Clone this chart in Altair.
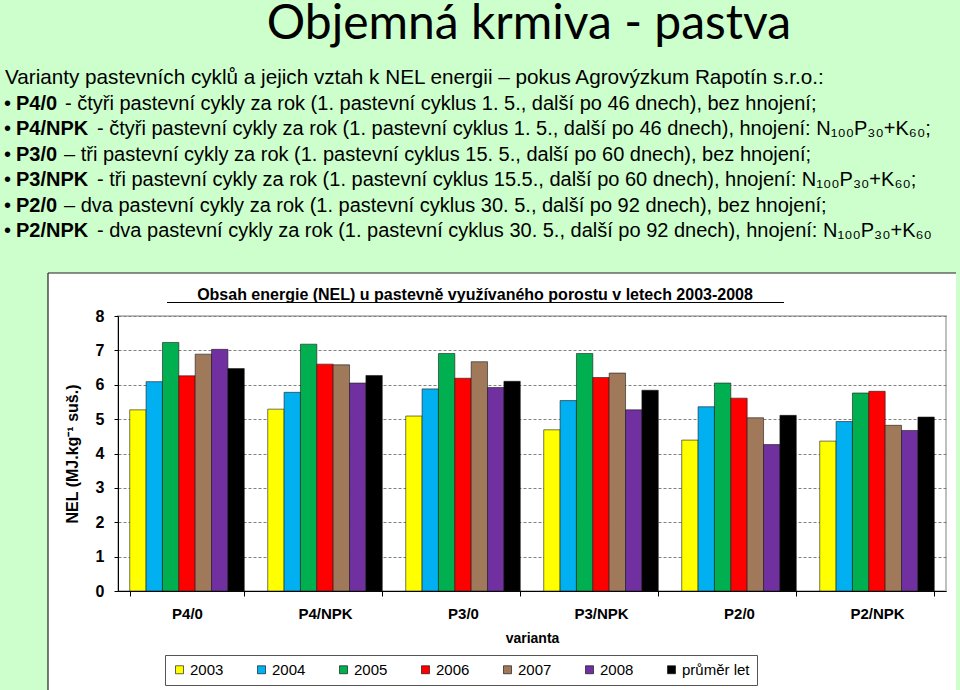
import altair as alt
import pandas as pd

# ---------------- data ----------------
variants = ["P4/0", "P4/NPK", "P3/0", "P3/NPK", "P2/0", "P2/NPK"]
years = ["2003", "2004", "2005", "2006", "2007", "2008", "průměr let"]
colors = ["#FFFF00", "#00B0F0", "#00B050", "#FF0000", "#A0785A", "#7030A0", "#000000"]

y2003 = [5.27, 5.29, 5.09, 4.69, 4.39, 4.36]
y2004 = [6.09, 5.78, 5.88, 5.54, 5.36, 4.93]
y2005 = [7.23, 7.18, 6.91, 6.91, 6.05, 5.76]
y2006 = [6.26, 6.60, 6.19, 6.21, 5.61, 5.81]
y2007 = [6.89, 6.58, 6.67, 6.34, 5.04, 4.82]
y2008 = [7.03, 6.05, 5.92, 5.27, 4.26, 4.67]
prumer = [6.47, 6.27, 6.10, 5.84, 5.11, 5.06]

y_ticks = [0, 1, 2, 3, 4, 5, 6, 7, 8]

page_title = "Objemná krmiva - pastva"
intro = "Varianty pastevních cyklů a jejich vztah k NEL energii – pokus Agrovýzkum Rapotín s.r.o.:"
bullet_bold = ["P4/0", "P4/NPK", "P3/0", "P3/NPK", "P2/0", "P2/NPK"]
bullet_rest = [
    "- čtyři pastevní cykly za rok (1. pastevní cyklus 1. 5., další po 46 dnech), bez hnojení;",
    "- čtyři pastevní cykly za rok (1. pastevní cyklus 1. 5., další po 46 dnech), hnojení: N₁₀₀P₃₀+K₆₀;",
    "– tři pastevní cykly za rok (1. pastevní cyklus 15. 5., další po 60 dnech), bez hnojení;",
    "- tři pastevní cykly za rok (1. pastevní cyklus 15.5., další po 60 dnech), hnojení: N₁₀₀P₃₀+K₆₀;",
    "– dva pastevní cykly za rok (1. pastevní cyklus 30. 5., další po 92 dnech), bez hnojení;",
    "- dva pastevní cykly za rok (1. pastevní cyklus 30. 5., další po 92 dnech), hnojení: N₁₀₀P₃₀+K₆₀",
]
chart_title = "Obsah energie (NEL) u pastevně využívaného porostu v letech 2003-2008"
y_title = "NEL (MJ.kg⁻¹ suš.)"
x_title = "varianta"

series = [y2003, y2004, y2005, y2006, y2007, y2008, prumer]
rows = []
for yr, vals in zip(years, series):
    for v, val in zip(variants, vals):
        rows.append({"varianta": v, "rok": yr, "NEL": val})
df = pd.DataFrame(rows)

# ---------------- layout ----------------
OX, OY = 118, 316          # plot origin in page pixels
W, H = 828, 275
ARIAL = "Liberation Sans"
PAGE_GREEN = "#CCFFCC"

one = pd.DataFrame({"k": [0]})


def px(x):
    return x - OX


def py(y):
    return y - OY


def rect(x0, x1, y0, y1, fill):
    return alt.Chart(one).mark_rect(fill=fill).encode(
        x=alt.value(px(x0)), x2=alt.value(px(x1)),
        y=alt.value(py(y0)), y2=alt.value(py(y1)))


# green page around the white chart box
layers = [
    rect(0, 960, 0, 273, PAGE_GREEN),
    rect(0, 48, 273, 690, PAGE_GREEN),
    rect(956, 960, 273, 690, PAGE_GREEN),
]
layers.append(alt.Chart(one).mark_rule(color="#202020", strokeWidth=1.2).encode(
    x=alt.value(px(48)), x2=alt.value(px(956)), y=alt.value(py(273))))
layers.append(alt.Chart(one).mark_rule(color="#202020", strokeWidth=1.2).encode(
    x=alt.value(px(48)), y=alt.value(py(273)), y2=alt.value(py(690))))

# page title
layers.append(alt.Chart(one).mark_text(
    text=page_title, font="Lato", fontSize=48, align="center", baseline="alphabetic",
    color="black").encode(x=alt.value(px(529)), y=alt.value(py(39))))

# intro + bullet lines
line_y = [78, 103.5, 129, 154.5, 180, 205.5, 231]
layers.append(alt.Chart(one).mark_text(
    text=intro, font=ARIAL, fontSize=20.7, align="left", baseline="middle",
    color="black").encode(x=alt.value(px(5)), y=alt.value(py(line_y[0]))))
rest_x = [65, 97, 64, 97, 64, 97]
for i, (b, r) in enumerate(zip(bullet_bold, bullet_rest)):
    yy = py(line_y[i + 1])
    layers.append(alt.Chart(one).mark_text(
        text="•", font=ARIAL, fontSize=20, align="left", baseline="middle",
        color="black").encode(x=alt.value(px(4)), y=alt.value(yy)))
    layers.append(alt.Chart(one).mark_text(
        text=b, font=ARIAL, fontSize=20, fontWeight="bold", align="left",
        baseline="middle", color="black").encode(x=alt.value(px(16)), y=alt.value(yy)))
    layers.append(alt.Chart(one).mark_text(
        text=r, font=ARIAL, fontSize=20, align="left", baseline="middle",
        color="black").encode(x=alt.value(px(rest_x[i])), y=alt.value(yy)))

# chart title + underline
layers.append(alt.Chart(one).mark_text(
    text=chart_title, font=ARIAL, fontSize=16, fontWeight="bold", align="center",
    baseline="alphabetic", color="black").encode(
    x=alt.value(px(475)), y=alt.value(py(300))))
layers.append(alt.Chart(one).mark_rule(color="black", strokeWidth=1.2).encode(
    x=alt.value(px(167)), x2=alt.value(px(784)), y=alt.value(py(302.5))))

# bars
bars = alt.Chart(df).mark_bar(stroke="#1a1a1a", strokeWidth=0.6).encode(
    x=alt.X("varianta:N", sort=variants,
            scale=alt.Scale(paddingInner=0.17, paddingOuter=0.085),
            axis=alt.Axis(title=x_title, labelAngle=0, labelFont=ARIAL,
                          labelFontSize=15, labelFontWeight="bold", labelColor="black",
                          labelPadding=10, tickBand="extent", tickSize=5,
                          tickColor="black", domainColor="black",
                          titleFont=ARIAL, titleFontSize=14, titleFontWeight="bold",
                          titleColor="black", titlePadding=10)),
    xOffset=alt.XOffset("rok:N", sort=years),
    y=alt.Y("NEL:Q", scale=alt.Scale(domain=[0, 8], nice=False),
            axis=alt.Axis(values=y_ticks, title=y_title, labelFont=ARIAL,
                          labelFontSize=16, labelFontWeight="bold", labelColor="black",
                          labelPadding=10, tickSize=4, tickColor="black",
                          domainColor="black", grid=True, gridColor="#808080",
                          gridDash=[3, 2], gridWidth=1,
                          titleFont=ARIAL, titleFontSize=16, titleFontWeight="bold",
                          titleColor="black", titleX=-46, titleY=H / 2,
                          titleAlign="center", titleBaseline="middle", titleAngle=-90)),
    color=alt.Color("rok:N", sort=years,
                    scale=alt.Scale(domain=years, range=colors),
                    legend=alt.Legend(title=None, orient="none", direction="horizontal",
                                      legendX=px(165), legendY=py(655),
                                      symbolType="square", symbolSize=64,
                                      symbolStrokeColor="black", symbolStrokeWidth=0.6,
                                      symbolOpacity=1,
                                      labelFont=ARIAL, labelFontSize=15,
                                      labelColor="black", labelOffset=3,
                                      columnPadding=30, padding=7,
                                      strokeColor="#555555", fillColor="white")),
)

layers.append(bars)

chart = alt.layer(*layers).properties(
    width=W, height=H,
    autosize=alt.AutoSizeParams(type="none"),
    padding={"left": OX, "top": OY, "right": 960 - OX - W, "bottom": 690 - OY - H},
).configure(background="white").configure_view(
    stroke="#BFBFBF", strokeWidth=2)

chart.save("out.html", embed_options={"renderer": "svg", "actions": False})
